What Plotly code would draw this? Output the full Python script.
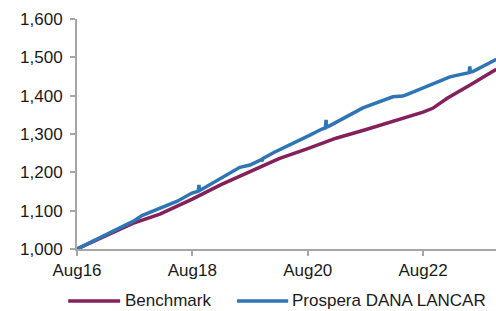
import plotly.graph_objects as go

# Prospera DANA LANCAR (blue)
fund_dates = ["2016-08-01", "2016-12-24", "2017-07-22", "2017-09-16", "2018-01-08", "2018-04-25",
              "2018-07-30", "2018-09-08", "2018-09-12", "2018-09-16", "2018-10-01", "2019-02-05",
              "2019-05-29", "2019-08-01", "2019-10-12", "2019-10-16", "2019-10-22", "2020-01-06",
              "2020-05-12", "2020-08-15", "2020-10-30", "2020-11-21", "2020-11-25", "2020-11-29",
              "2020-12-20", "2021-07-16", "2022-01-22", "2022-03-26", "2022-04-20", "2022-09-13",
              "2023-01-18", "2023-05-20", "2023-05-24", "2023-05-28", "2023-06-12", "2023-10-31",
              "2023-11-08"]
fund_values = [1000, 1029, 1072, 1087, 1106, 1124,
               1146, 1151, 1167, 1153, 1156, 1187,
               1213, 1219, 1233, 1229, 1236, 1253,
               1277, 1297, 1313, 1316, 1337, 1318,
               1322, 1368, 1397, 1399, 1403, 1428,
               1449, 1460, 1476, 1462, 1463, 1493,
               1495]

# Benchmark (purple)
bench_dates = ["2016-08-01", "2017-01-25", "2017-07-20", "2018-01-08", "2018-08-01", "2019-01-30",
               "2019-08-01", "2020-02-01", "2020-08-01", "2021-01-27", "2021-08-01", "2022-02-01",
               "2022-08-01", "2022-10-01", "2023-01-01", "2023-05-26", "2023-11-08"]
bench_values = [1000, 1034, 1067, 1091, 1130, 1168,
                1202, 1236, 1262, 1289, 1311, 1333,
                1357, 1367, 1393, 1428, 1469]

y_ticks = [1000, 1100, 1200, 1300, 1400, 1500, 1600]
x_ticks = ["2016-08-01", "2018-08-01", "2020-08-01", "2022-08-01"]
x_labels = ["Aug16", "Aug18", "Aug20", "Aug22"]

PURPLE = "#84205A"
BLUE = "#2E75B6"
AXIS = "#A6A6A6"
FONT = "Liberation Sans, Arial, sans-serif"

fig = go.Figure()
fig.add_trace(go.Scatter(x=bench_dates, y=bench_values, mode="lines", name="Benchmark",
                         line=dict(color=PURPLE, width=3.5), showlegend=False))
fig.add_trace(go.Scatter(x=fund_dates, y=fund_values, mode="lines", name="Prospera DANA LANCAR",
                         line=dict(color=BLUE, width=3.5), showlegend=False))

# manual legend
legend_y = -0.226
for x0, x1, tx, col, name in [(-0.021, 0.103, 0.110, PURPLE, "Benchmark"),
                              (0.382, 0.504, 0.508, BLUE, "Prospera DANA LANCAR")]:
    fig.add_shape(type="line", xref="paper", yref="paper", x0=x0, x1=x1, y0=legend_y, y1=legend_y,
                  line=dict(color=col, width=3.5))
    fig.add_annotation(xref="paper", yref="paper", x=tx, y=legend_y, text=name, showarrow=False,
                       xanchor="left", yanchor="middle", font=dict(size=17, color="#1a1a1a", family=FONT))

fig.update_layout(
    width=496, height=311,
    margin=dict(l=77, r=0, t=19, b=62),
    paper_bgcolor="white", plot_bgcolor="white",
    font=dict(family=FONT, size=17, color="#1a1a1a"),
)
fig.update_xaxes(range=["2016-08-01", "2023-11-06"], tickvals=x_ticks, ticktext=x_labels,
                 showgrid=False, zeroline=False, showline=True, linecolor=AXIS, linewidth=2,
                 ticks="outside", ticklen=5, tickcolor=AXIS, tickwidth=1.5, ticklabelstandoff=0)
fig.update_yaxes(range=[1000, 1600], tickvals=y_ticks, tickformat=",", showgrid=False,
                 zeroline=False, showline=True, linecolor=AXIS, linewidth=2,
                 ticks="outside", ticklen=5, tickcolor=AXIS, tickwidth=1.5, ticklabelstandoff=4)

fig.write_html("out.html", config={"displayModeBar": False},
               post_script="document.body.style.margin='0';")
